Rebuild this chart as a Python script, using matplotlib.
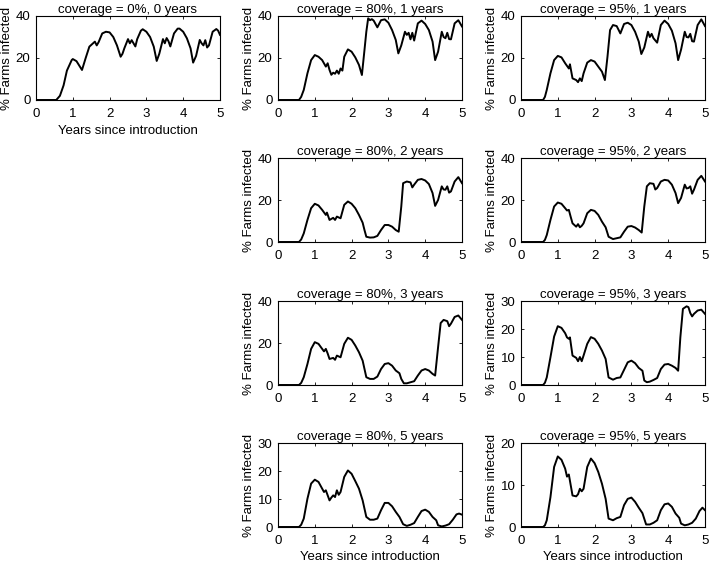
"""
Farms infected over time for different vaccination coverage / duration
"""
import matplotlib
import matplotlib.pyplot as plt

matplotlib.use('Agg')
plt.rcParams['font.family'] = ['Liberation Sans', 'DejaVu Sans']
plt.rcParams['font.size'] = 9

# ---- data (years, % farms infected) ----
t_0_0 = [0, 0.55, 0.65, 0.75, 0.84, 0.97, 1.0, 1.1, 1.25, 1.35, 1.45, 1.55, 1.6, 1.65, 1.7, 1.8, 1.9,
         2.0, 2.1, 2.2, 2.3, 2.35, 2.4, 2.5, 2.55, 2.6, 2.65, 2.7, 2.75, 2.85, 2.9, 3.0, 3.1, 3.2,
         3.28, 3.35, 3.45, 3.5, 3.55, 3.6, 3.65, 3.75, 3.85, 3.9, 4.0, 4.1, 4.2, 4.27, 4.35, 4.45,
         4.5, 4.55, 4.6, 4.65, 4.7, 4.8, 4.9, 4.95, 5.0]
y_0_0 = [0, 0, 2, 7, 14, 19, 19.5, 18.5, 14.3, 20, 25.4, 27, 27.8, 26, 27.5, 31.7, 32.5,
         32.2, 30, 26, 20.6, 22, 24.6, 29, 27, 28.5, 27, 25.5, 29, 33, 33.7, 32.5, 30, 25.4,
         18.6, 22, 29, 27, 29.5, 28, 25.5, 31.7, 34, 34, 32.5, 29.4, 24.6, 17.8, 21, 28.6,
         27, 26, 28.5, 25, 26, 32.5, 33.8, 33, 31]

t_80_1 = [0, 0.57, 0.63, 0.7, 0.8, 0.9, 1.0, 1.1, 1.2, 1.3, 1.35, 1.4, 1.45, 1.5, 1.55, 1.6, 1.65,
          1.7, 1.75, 1.8, 1.9, 2.0, 2.1, 2.2, 2.28, 2.35, 2.4, 2.45, 2.5, 2.55, 2.6, 2.7, 2.8,
          2.9, 3.0, 3.1, 3.2, 3.27, 3.35, 3.45, 3.5, 3.55, 3.6, 3.65, 3.7, 3.8, 3.9, 4.0, 4.1,
          4.2, 4.27, 4.35, 4.45, 4.5, 4.55, 4.6, 4.65, 4.7, 4.8, 4.9, 5.0]
y_80_1 = [0, 0, 1.5, 4.8, 12.7, 19, 21.4, 20.6, 19, 15.9, 17.5, 14.3, 12, 13, 12.5, 14, 12.5,
          15, 14, 20.6, 24.1, 23, 20.3, 16.7, 11.9, 23.8, 32.5, 38.9, 38, 38.5, 37.8, 34.6, 38,
          38.4, 36.8, 33.3, 28.6, 22.2, 26, 32.5, 31, 32, 28.9, 32, 28.3, 36.5, 37.8, 36.2, 33.3,
          27.8, 19, 23, 32.5, 30, 29.4, 32, 29, 28.9, 36.5, 38, 35]

t_95_1 = [0, 0.6, 0.65, 0.7, 0.8, 0.9, 1.0, 1.1, 1.2, 1.3, 1.33, 1.4, 1.5, 1.55, 1.6, 1.65, 1.7,
          1.8, 1.9, 2.0, 2.1, 2.2, 2.28, 2.35, 2.42, 2.5, 2.6, 2.7, 2.8, 2.9, 3.0, 3.1, 3.2, 3.27,
          3.35, 3.45, 3.5, 3.55, 3.6, 3.7, 3.8, 3.9, 4.0, 4.1, 4.2, 4.27, 4.35, 4.45, 4.5, 4.55,
          4.6, 4.65, 4.7, 4.8, 4.9, 5.0]
y_95_1 = [0, 0, 1.5, 4.8, 12.7, 19, 21, 20.3, 17.5, 15, 17, 10.3, 9.5, 8.5, 10.3, 9, 12.7,
          17.8, 19, 18.3, 15.9, 13.5, 9.5, 20.6, 33.3, 35.7, 35.2, 31.7, 36.2, 36.8, 35.7, 32.5,
          27.8, 21.9, 25, 32.5, 30, 31.5, 29.4, 27.3, 35.7, 37.8, 36.2, 33, 27, 19, 24, 32.5, 30,
          29.8, 31.5, 28, 27.8, 35.7, 38.4, 35.2]

t_80_2 = [0, 0.57, 0.63, 0.7, 0.8, 0.9, 1.0, 1.1, 1.2, 1.3, 1.33, 1.4, 1.5, 1.55, 1.6, 1.7, 1.8,
          1.9, 2.0, 2.1, 2.2, 2.3, 2.35, 2.4, 2.5, 2.6, 2.7, 2.8, 2.9, 3.0, 3.1, 3.2, 3.28, 3.35,
          3.4, 3.5, 3.6, 3.65, 3.7, 3.8, 3.9, 4.0, 4.1, 4.2, 4.27, 4.35, 4.45, 4.5, 4.55, 4.6,
          4.65, 4.7, 4.8, 4.9, 5.0]
y_80_2 = [0, 0, 1.2, 4.1, 10.5, 16.1, 18.2, 17.4, 15.3, 12.9, 14, 10.5, 11.5, 10.5, 12.1, 11.3,
          17.7, 19.3, 18.2, 16.1, 12.9, 9.2, 5.7, 2.5, 2.1, 2.2, 2.9, 5.7, 8.1, 8.1, 7.3, 5.7,
          4.9, 16.9, 28, 28.8, 28.4, 26, 27.3, 29.6, 30, 29.3, 27.6, 23.3, 17.2, 20, 26.5, 25,
          24.9, 26.5, 23.5, 24.1, 28.8, 30.9, 28]

t_95_2 = [0, 0.6, 0.65, 0.7, 0.8, 0.9, 1.0, 1.1, 1.2, 1.25, 1.3, 1.35, 1.4, 1.5, 1.55, 1.6, 1.65,
          1.7, 1.8, 1.9, 2.0, 2.1, 2.2, 2.3, 2.38, 2.5, 2.6, 2.7, 2.8, 2.9, 3.0, 3.1, 3.2, 3.28,
          3.35, 3.42, 3.5, 3.6, 3.65, 3.7, 3.8, 3.9, 4.0, 4.1, 4.2, 4.27, 4.35, 4.45, 4.5, 4.55,
          4.6, 4.65, 4.7, 4.8, 4.9, 5.0]
y_95_2 = [0, 0, 1, 3.3, 10.5, 16.9, 18.8, 18.2, 16.1, 15, 15.3, 12, 8.9, 7.3, 8.5, 7, 7.7,
          8.9, 13.7, 15.3, 14.8, 12.9, 9.7, 7, 2.5, 1.4, 1.8, 2.2, 4.9, 7.3, 7.6, 6.9, 5.7, 4.5,
          16.9, 26.5, 28, 27.7, 25, 25.7, 28.8, 29.6, 29.3, 27.3, 23.3, 18.5, 21, 27.3, 25.5,
          25.7, 26.5, 23, 24.9, 29.6, 31.5, 28.8]

t_80_3 = [0, 0.57, 0.63, 0.7, 0.8, 0.9, 1.0, 1.1, 1.2, 1.25, 1.3, 1.35, 1.4, 1.5, 1.55, 1.6, 1.7,
          1.8, 1.9, 2.0, 2.1, 2.2, 2.3, 2.4, 2.5, 2.6, 2.7, 2.8, 2.9, 3.0, 3.1, 3.2, 3.3, 3.35,
          3.42, 3.5, 3.6, 3.7, 3.8, 3.9, 4.0, 4.1, 4.2, 4.27, 4.35, 4.42, 4.5, 4.6, 4.65, 4.7,
          4.8, 4.9, 5.0]
y_80_3 = [0, 0, 1, 3.7, 10, 17.2, 20.4, 19.6, 17.2, 16, 17.2, 15, 12.4, 12.9, 12, 14, 13.2,
          19.6, 22.5, 21.5, 18.8, 15.6, 11.6, 3.7, 2.9, 2.9, 4, 7.6, 10, 10.4, 9.2, 6.9, 5.6, 2.9,
          0.8, 0.8, 1.3, 1.8, 4.5, 6.9, 7.6, 6.9, 5.3, 4.5, 18, 29.5, 31, 30.4, 28, 29.2, 32.4,
          33.1, 31]

t_95_3 = [0, 0.6, 0.65, 0.7, 0.8, 0.9, 1.0, 1.1, 1.2, 1.25, 1.3, 1.33, 1.4, 1.5, 1.55, 1.6, 1.65,
          1.7, 1.8, 1.9, 2.0, 2.1, 2.2, 2.3, 2.38, 2.5, 2.6, 2.7, 2.8, 2.9, 3.0, 3.1, 3.2, 3.3,
          3.35, 3.42, 3.5, 3.6, 3.7, 3.8, 3.9, 4.0, 4.1, 4.2, 4.27, 4.33, 4.4, 4.5, 4.55, 4.6,
          4.65, 4.7, 4.8, 4.9, 5.0]
y_95_3 = [0, 0, 0.8, 2.7, 9.9, 17.3, 21, 20.4, 18.5, 17, 16.5, 17, 10.5, 9.7, 8.5, 10, 8.5,
          10.5, 14.7, 17.1, 16.5, 14.7, 12.3, 9.3, 2.7, 1.9, 2.5, 2.7, 5.4, 8.1, 8.7, 7.8, 6.1,
          5.1, 1.6, 1, 1.2, 1.8, 2.5, 5.7, 7.3, 7.5, 6.9, 6.1, 5.1, 17, 27.2, 28.1, 27.8, 25.7,
          24.5, 25.4, 26.6, 26.9, 25.4]

t_80_5 = [0, 0.57, 0.63, 0.7, 0.8, 0.9, 1.0, 1.1, 1.2, 1.25, 1.3, 1.35, 1.4, 1.45, 1.5, 1.55, 1.6,
          1.65, 1.7, 1.8, 1.9, 2.0, 2.1, 2.2, 2.3, 2.4, 2.5, 2.6, 2.7, 2.8, 2.9, 3.0, 3.1, 3.2,
          3.3, 3.4, 3.5, 3.6, 3.7, 3.8, 3.9, 4.0, 4.1, 4.2, 4.3, 4.35, 4.45, 4.55, 4.65, 4.75,
          4.85, 4.92, 5.0]
y_80_5 = [0, 0, 0.8, 3, 10.1, 15.5, 16.9, 16.1, 13.7, 12.5, 13.1, 11.3, 9.5, 10.5, 11.3, 10.7,
          13.1, 11.5, 12.5, 17.9, 20.2, 19, 16.4, 13.7, 9.5, 3.6, 2.6, 2.6, 3, 6, 8.6, 8.6, 7.4,
          5.4, 3.6, 1, 0.4, 0.8, 1.4, 3.6, 5.7, 6.2, 5.4, 3.6, 2.4, 0.6, 0.2, 0.5, 1, 2.6, 4.5,
          4.8, 4.4]

t_95_5 = [0, 0.6, 0.65, 0.7, 0.8, 0.9, 1.0, 1.1, 1.2, 1.25, 1.3, 1.33, 1.4, 1.5, 1.55, 1.6, 1.65,
          1.7, 1.8, 1.9, 2.0, 2.1, 2.2, 2.3, 2.38, 2.5, 2.6, 2.7, 2.8, 2.9, 3.0, 3.1, 3.2, 3.3,
          3.4, 3.5, 3.6, 3.7, 3.8, 3.9, 4.0, 4.1, 4.2, 4.3, 4.35, 4.45, 4.55, 4.65, 4.75, 4.85,
          4.93, 5.0]
y_95_5 = [0, 0, 0.4, 1.6, 7.1, 14.3, 16.8, 16, 13.9, 12, 12.5, 11, 7.5, 7.3, 7.8, 9.1, 8.5,
          9.1, 14.3, 16.3, 15.2, 13.1, 10.3, 6.7, 2, 1.6, 2.1, 2.4, 5.2, 6.7, 7, 6, 4.6, 3.3,
          0.6, 0.6, 1, 1.6, 4, 5.4, 5.6, 4.8, 3.2, 2.2, 0.8, 0.4, 0.6, 1, 2, 3.8, 4.6, 4]

titles = ['coverage = 0%, 0 years',
          'coverage = 80%, 1 years', 'coverage = 95%, 1 years',
          'coverage = 80%, 2 years', 'coverage = 95%, 2 years',
          'coverage = 80%, 3 years', 'coverage = 95%, 3 years',
          'coverage = 80%, 5 years', 'coverage = 95%, 5 years']
series = [(t_0_0, y_0_0), (t_80_1, y_80_1), (t_95_1, y_95_1), (t_80_2, y_80_2), (t_95_2, y_95_2),
          (t_80_3, y_80_3), (t_95_3, y_95_3), (t_80_5, y_80_5), (t_95_5, y_95_5)]
ymax = [40, 40, 40, 40, 40, 40, 30, 30, 20]
yticks = [[0, 20, 40]] * 6 + [[0, 10, 20, 30]] * 2 + [[0, 10, 20]]
show_xlabel = [True, False, False, False, False, False, False, True, True]

# (column, row) slot in the 3x4 grid
slots = [(0, 0), (1, 0), (2, 0), (1, 1), (2, 1), (1, 2), (2, 2), (1, 3), (2, 3)]


def panel(fig, col, row):
    W, H = 709, 562
    lefts = [36, 278, 521]
    tops = [16, 158, 301, 443]
    w, h = 184, 84
    return fig.add_axes([lefts[col] / W, 1 - (tops[row] + h) / H, w / W, h / H])


if __name__ == '__main__':
    fig = plt.figure(figsize=(7.09, 5.62), dpi=100)
    for i, (col, row) in enumerate(slots):
        ax = panel(fig, col, row)
        t, y = series[i]
        ax.plot(t, y, color='black', linewidth=1.4)
        ax.set_xlim(0, 5)
        ax.set_ylim(0, ymax[i])
        ax.set_xticks([0, 1, 2, 3, 4, 5])
        ax.set_yticks(yticks[i])
        ax.tick_params(direction='in', top=True, right=True, length=2.5, width=0.6,
                       labelsize=9.5)
        ax.tick_params(axis='x', pad=6)
        ax.tick_params(axis='y', pad=4)
        for s in ax.spines.values():
            s.set_linewidth(0.8)
        ax.set_title(titles[i], fontsize=9.5, pad=2)
        ax.set_ylabel('% Farms infected', fontsize=9.5, labelpad=2)
        if show_xlabel[i]:
            ax.set_xlabel('Years since introduction', fontsize=9.5, labelpad=3)
    fig.savefig('out.png', dpi=100)
